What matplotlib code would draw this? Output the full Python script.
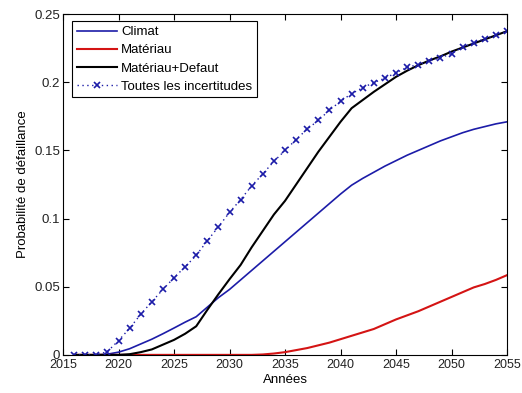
import numpy as np
import matplotlib.pyplot as plt

plt.rcParams['font.family'] = ['Liberation Sans', 'DejaVu Sans']

annees = np.arange(2016, 2056)

climat = [0, 0, 0, 0.0005, 0.002, 0.0045, 0.008, 0.0115, 0.0155, 0.0197,
          0.024, 0.028, 0.035, 0.042, 0.048, 0.055, 0.062, 0.069, 0.076, 0.083,
          0.090, 0.097, 0.104, 0.111, 0.118, 0.1245, 0.1295, 0.134, 0.1385, 0.1425,
          0.1465, 0.150, 0.1535, 0.157, 0.160, 0.163, 0.1655, 0.1675, 0.1695, 0.171]

materiau = [0, 0, 0, 0, 0, 0, 0, 0, 0, 0,
            0, 0, 0, 0, 0, 0, 0, 0.0003, 0.001, 0.002,
            0.0035, 0.005, 0.007, 0.009, 0.0115, 0.014, 0.0165, 0.019, 0.0225, 0.026,
            0.029, 0.032, 0.0355, 0.039, 0.0425, 0.046, 0.0495, 0.052, 0.055, 0.0585]

materiau_defaut = [0, 0, 0, 0, 0, 0.0005, 0.002, 0.004, 0.0075, 0.011,
                   0.0155, 0.021, 0.033, 0.0445, 0.0555, 0.066, 0.079, 0.091, 0.103, 0.113,
                   0.125, 0.137, 0.149, 0.160, 0.171, 0.181, 0.187, 0.193, 0.1985, 0.204,
                   0.2085, 0.2125, 0.216, 0.219, 0.2225, 0.2255, 0.2285, 0.2315, 0.2345, 0.2375]

toutes = [0, 0, 0, 0.0024, 0.0105, 0.0195, 0.0298, 0.039, 0.048, 0.0566,
          0.0646, 0.073, 0.0837, 0.094, 0.1045, 0.114, 0.124, 0.1328, 0.142, 0.150,
          0.158, 0.1657, 0.172, 0.1796, 0.186, 0.1917, 0.196, 0.1998, 0.203, 0.207,
          0.211, 0.213, 0.2156, 0.218, 0.221, 0.2259, 0.229, 0.232, 0.2346, 0.2376]

bleu = '#1c1ca8'

fig = plt.figure(figsize=(5.22, 3.93), dpi=100)
ax = fig.add_axes([0.1207, 0.097, 0.8506, 0.867])

ax.plot(annees, climat, color=bleu, lw=1.2, label='Climat')
ax.plot(annees, materiau, color='#d41414', lw=1.5, label='Matériau')
ax.plot(annees, materiau_defaut, color='black', lw=1.5, label='Matériau+Defaut')
ax.plot(annees, toutes, color=bleu, lw=1.0, ls=(0, (1, 2.5)), marker='x', ms=4,
        mew=1.2, label='Toutes les incertitudes')

ax.set_xlim(2015, 2055)
ax.set_ylim(0, 0.25)
ax.set_xticks(range(2015, 2056, 5))
ax.set_yticks([0, 0.05, 0.1, 0.15, 0.2, 0.25])
ax.set_yticklabels(['0', '0.05', '0.1', '0.15', '0.2', '0.25'])
ax.tick_params(direction='in', top=True, right=True, length=4, labelsize=9.5,
               pad=2, labelcolor='#222222')
ax.tick_params(axis='x', labelsize=9, pad=3)
ax.set_xlabel('Années', fontsize=9.5, labelpad=2)
ax.set_ylabel('Probabilité de défaillance', fontsize=9.5, labelpad=4)

leg = ax.legend(loc='upper left', bbox_to_anchor=(0.02, 0.979), fontsize=9.5,
                fancybox=False, framealpha=1, edgecolor='black', numpoints=1,
                handlelength=3.1, handletextpad=0.3, labelspacing=0.45,
                borderpad=0.35, borderaxespad=0)
leg.get_frame().set_linewidth(0.8)

fig.savefig('out.png', dpi=100)
